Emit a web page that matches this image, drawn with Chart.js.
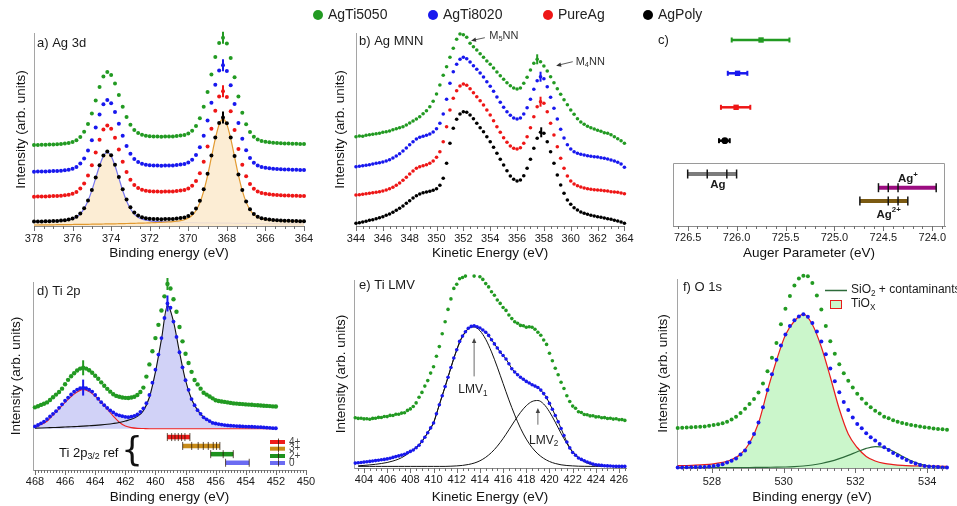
<!DOCTYPE html>
<html>
<head>
<meta charset="utf-8">
<script src="https://cdn.jsdelivr.net/npm/chart.js@4.4.1/dist/chart.umd.min.js"></script>
<style>
  html, body { margin: 0; padding: 0; background: #fff; }
  #wrap { position: relative; width: 957px; height: 506px; overflow: hidden; font-family: 'Liberation Sans', Arial, sans-serif; }
  #wrap canvas { position: absolute; }
  .leg { position: absolute; top: 5px; font-size: 14px; line-height: 18px; color: #222; white-space: nowrap; }
  .leg i { display: inline-block; width: 10px; height: 10px; border-radius: 50%; margin-right: 5px; vertical-align: -1px; }
</style>
</head>
<body>
<div id="wrap">
  <canvas id="pa"></canvas>
  <canvas id="pb"></canvas>
  <canvas id="pc"></canvas>
  <canvas id="pd"></canvas>
  <canvas id="pe"></canvas>
  <canvas id="pf"></canvas>
</div>
<script>
// ---- samples (legend order) ----
const seriesNames = ['AgTi5050', 'AgTi8020', 'PureAg', 'AgPoly'];

// a) Ag 3d, binding energy 378 -> 364 eV every 0.2 eV (offset spectra, arb. units)
const ag3dFirst = 378, ag3dStep = -0.2;
const ag3dAgTi5050 = [81.0, 81.1, 81.2, 81.3, 81.4, 81.6, 81.7, 82.0, 82.4, 83.0,
  84.0, 85.8, 89.1, 94.3, 102.1, 112.5, 125.6, 138.9, 149.4, 153.9,
  150.9, 142.4, 131.0, 119.3, 109.0, 101.2, 96.1, 92.9, 91.2, 90.2,
  89.8, 89.5, 89.4, 89.3, 89.4, 89.5, 89.6, 89.9, 90.4, 91.1,
  92.6, 95.3, 100.0, 107.7, 119.2, 134.1, 151.6, 169.0, 183.0, 188.3,
  182.5, 167.9, 148.7, 129.4, 113.3, 101.8, 94.1, 89.3, 86.6, 85.0,
  84.2, 83.7, 83.3, 83.1, 82.8, 82.6, 82.5, 82.3, 82.2, 82.1, 82.0];
const ag3dAgTi8020 = [54.3, 54.4, 54.5, 54.6, 54.7, 54.9, 55.0, 55.3, 55.7, 56.3,
  57.3, 59.1, 62.4, 67.6, 75.4, 85.8, 98.6, 111.6, 121.8, 126.1,
  122.8, 113.9, 102.3, 90.3, 80.0, 72.2, 67.1, 63.9, 62.2, 61.2,
  60.8, 60.5, 60.4, 60.3, 60.4, 60.5, 60.6, 60.9, 61.4, 62.1,
  63.6, 66.3, 71.0, 78.7, 90.2, 105.4, 123.3, 141.2, 155.4, 160.8,
  155.1, 140.7, 122.0, 103.1, 87.3, 75.8, 68.1, 63.3, 60.6, 59.0,
  58.2, 57.7, 57.3, 57.1, 56.8, 56.6, 56.5, 56.3, 56.2, 56.1, 56.0];
const ag3dPureAg = [29.3, 29.4, 29.5, 29.6, 29.7, 29.9, 30.0, 30.3, 30.7, 31.3,
  32.3, 34.1, 37.4, 42.6, 50.4, 60.8, 73.5, 86.3, 96.4, 100.6,
  97.2, 88.2, 76.4, 64.3, 54.0, 46.2, 41.1, 37.9, 36.2, 35.2,
  34.8, 34.5, 34.4, 34.3, 34.4, 34.5, 34.6, 34.9, 35.4, 36.1,
  37.6, 40.3, 45.0, 52.7, 64.2, 79.4, 97.3, 115.2, 129.4, 134.8,
  129.1, 114.7, 96.0, 77.1, 61.3, 49.8, 42.1, 37.3, 34.6, 33.0,
  32.2, 31.7, 31.3, 31.1, 30.8, 30.6, 30.5, 30.3, 30.2, 30.1, 30.0];
const ag3dAgPoly = [4.4, 4.5, 4.6, 4.7, 4.8, 5.0, 5.1, 5.4, 5.8, 6.4,
  7.4, 9.2, 12.5, 17.7, 25.5, 35.9, 48.4, 60.8, 70.5, 74.4,
  70.7, 61.3, 49.1, 36.8, 26.5, 18.7, 13.6, 10.4, 8.7, 7.7,
  7.3, 7.0, 6.9, 6.8, 6.9, 7.0, 7.1, 7.4, 7.9, 8.6,
  10.1, 12.8, 17.5, 25.2, 36.7, 52.2, 70.4, 88.6, 102.9, 108.4,
  102.8, 88.5, 70.1, 51.6, 36.0, 24.5, 16.8, 12.0, 9.3, 7.7,
  6.9, 6.4, 6.0, 5.8, 5.5, 5.3, 5.2, 5.0, 4.9, 4.8, 4.7];
const ag3dFit32 = [4.3, 4.3, 4.4, 4.5, 4.7, 4.8, 4.9, 5.2, 5.6, 6.1,
  7.2, 9.0, 12.2, 17.4, 25.2, 35.6, 48.0, 60.3, 69.9, 73.6,
  69.9, 60.2, 47.9, 35.5, 25.0, 17.2, 12.0, 8.7, 6.9, 5.8,
  5.2, 4.8, 4.5, 4.3, 4.2, 4.0, 3.9, 3.7, 3.6, 3.5,
  3.4, 3.4, 3.3, 3.2, 3.2, 3.1, 3.0, 3.0, 2.9, 2.9,
  2.8, 2.8, 2.7, 2.7, 2.6, 2.6, 2.5, 2.5, 2.5, 2.4,
  2.4, 2.3, 2.3, 2.3, 2.2, 2.2, 2.1, 2.1, 2.1, 2.0, 2.0];
const ag3dFit52 = [1.0, 1.0, 1.1, 1.1, 1.2, 1.2, 1.3, 1.3, 1.4, 1.4,
  1.5, 1.6, 1.6, 1.7, 1.7, 1.8, 1.8, 1.9, 2.0, 2.1,
  2.2, 2.2, 2.3, 2.4, 2.5, 2.6, 2.7, 2.8, 2.9, 3.0,
  3.2, 3.3, 3.5, 3.6, 3.9, 4.1, 4.4, 4.8, 5.3, 6.2,
  7.9, 10.7, 15.5, 23.2, 34.8, 50.3, 68.8, 87.1, 101.5, 107.1,
  101.6, 87.4, 69.1, 50.8, 35.3, 23.9, 16.2, 11.4, 8.8, 7.3,
  6.5, 6.0, 5.6, 5.4, 5.3, 5.1, 5.0, 4.9, 4.9, 4.8, 4.8];
const ag3dMarkX = 368.2;
const ag3dMarkY = [188.3, 160.8, 134.8, 108.4];

// b) Ag MNN, kinetic energy 344 -> 364 eV every 0.25 eV
const mnnFirst = 344, mnnStep = 0.25;
const mnnAgTi5050 = [89.3, 90, 89.7, 90.7, 91.3, 91.7, 92.3, 92.7, 93.7, 94.3,
  95, 96.3, 97.3, 98.3, 99.3, 101, 103, 105, 107, 109.3,
  112.3, 115.3, 119.3, 124.7, 132, 141, 150.7, 159.3, 168.7, 177.7,
  186.7, 192, 191.3, 188.7, 182.7, 179.3, 176, 172.3, 168.7, 165,
  161.7, 158, 154, 150.3, 146.7, 143.3, 140.3, 138, 137, 138,
  142.7, 148.7, 156, 162.7, 166.7, 164.3, 160, 155, 149.3, 143.3,
  137.3, 131.7, 126.3, 121.3, 116, 111.7, 107.3, 104, 101.7, 99.7,
  98.3, 97, 95.7, 94.7, 93.3, 92.7, 91.3, 89.3, 87.3, 85.3, 82.7];
const mnnAgTi8020 = [59.3, 59.7, 60.3, 60.7, 61.3, 62, 62.7, 63.3, 64, 65,
  66.3, 68, 70, 72.3, 75, 78, 81.3, 84.3, 87, 88.7,
  89.7, 90.7, 92, 94, 97.3, 102.7, 112, 126.7, 142.7, 154.3,
  161.7, 166.7, 168.7, 167.3, 164, 160.3, 156.7, 153, 149, 144.3,
  139.7, 134.7, 129, 123.7, 118.7, 114.3, 110.7, 108, 107, 108,
  112, 118.3, 126.7, 136.7, 145.3, 149.3, 147.3, 139.3, 128.7, 117.7,
  107, 96.7, 88, 81.3, 77, 74.3, 72.7, 71.7, 71, 70.3,
  69.7, 69.3, 69, 68.3, 67.7, 67, 66, 65, 63.7, 62, 58.7];
const mnnPureAg = [31, 31.3, 31.7, 32.3, 32.7, 33.3, 33.7, 34.3, 35, 36,
  37.3, 38.7, 40.7, 43, 45.7, 48.7, 52, 55, 57.7, 59.3,
  60.3, 61.3, 62.7, 65, 68.7, 74.3, 84.3, 99.3, 116, 127.7,
  135.3, 140, 142, 140.7, 137.3, 133.3, 129.3, 125.3, 121, 116,
  111, 105.3, 99.3, 93.7, 88.3, 83.7, 80, 77.7, 77, 78.3,
  82.7, 89.3, 98.3, 109.3, 119.3, 124.3, 122.7, 114.3, 102.7, 91,
  79.3, 67.7, 57.7, 50, 45, 42, 40.3, 39, 38, 37.3,
  36.7, 36.3, 36, 35.7, 35.3, 35, 34.3, 34, 33.7, 33, 32.3];
const mnnAgPoly = [2.7, 3.3, 4, 4.7, 5.7, 6.3, 7.3, 8.3, 9.3, 10.7,
  12, 13.7, 15.7, 17.7, 20, 22.7, 25.3, 28, 30.3, 32,
  33.3, 34, 34.7, 35.7, 37.3, 40.7, 47.7, 62.7, 82.7, 97.7,
  106.7, 112, 114.3, 113.7, 111, 107.3, 102.7, 98.3, 94.3, 89.3,
  84.3, 78.7, 72.7, 66.7, 61, 55.3, 50, 46.7, 45, 46,
  50.3, 57.7, 66.7, 77.7, 87.7, 93.7, 92.7, 84.3, 74.3, 62.7,
  51, 41, 32.7, 26, 21.7, 18.3, 16, 14, 12.7, 11.7,
  10.7, 10, 9.3, 8.7, 8, 7.3, 6.7, 5.7, 5, 4, 2.7];
const mnnMarkX = [357.5, 357.75, 357.75, 357.8];
const mnnMarkY = [166.7, 149.3, 124.3, 93.7];

// c) Auger parameter (eV) per sample and literature ranges
const apVal = [725.75, 725.99, 726.005, 726.12];
const apLo = [725.46, 725.89, 725.86, 726.07];
const apHi = [726.05, 726.09, 726.16, 726.18];
const apRow = [186, 152.7, 118.7, 85.3];
const refNames = ['Ag', 'Ag+', 'Ag2+'];
const refTicks = [[726.5, 726.3, 726.1, 726.0], [724.55, 724.45, 724.35, 723.96], [724.74, 724.45, 724.35, 724.25]];
const refRow = [52, 38.3, 25];
const refLabelX = [726.27, 724.35, 724.57];
const refLabelY = [41, 46.7, 11];

// d) Ti 2p, binding energy 468 -> 452 eV every 0.2 eV
const ti2pFirst = 468, ti2pStep = -0.2;
const ti2pAgTi5050 = [63.3, 64.5, 65.8, 67, 68.3, 70.8, 73.5, 76.2, 78.8, 82.2,
  86.7, 91.1, 94.8, 97.8, 100.5, 102.5, 103.3, 102.5, 100.8, 98.3,
  95.3, 92.2, 88.6, 85.2, 82, 79.2, 76.6, 74.9, 74, 73.3,
  72.9, 72.8, 73.3, 74.1, 75.8, 78.8, 83.3, 94.4, 106.7, 120,
  133.3, 146.7, 161.2, 175.5, 188, 183.5, 172.5, 160, 144.5, 130,
  117.5, 108.2, 99.2, 91, 86.5, 82.2, 78.1, 76.2, 74.3, 72.4,
  70.5, 69.8, 69.3, 68.8, 68.3, 67.8, 67.3, 67.1, 66.8, 66.6,
  66.3, 66.1, 65.9, 65.6, 65.4, 65.2, 65, 64.8, 64.6, 64.3, 64.1];
const ti2pAgTi8020 = [44, 45.5, 47.2, 48.9, 51.5, 54.1, 56.8, 59.5, 62.8, 66.4,
  70, 73.2, 76.3, 79.2, 81.3, 82.6, 83.3, 82.6, 81.2, 79.3,
  75.8, 72, 68.5, 65.5, 62.7, 60.2, 58.2, 56.1, 55.2, 54.4,
  53.7, 53.4, 53.9, 54.8, 56.2, 58.8, 62.3, 67.5, 75.8, 88.3,
  101.4, 116.7, 133.3, 153.6, 168.3, 164, 150, 134.5, 119, 103.8,
  90.8, 81, 71.7, 65.5, 60.5, 56.8, 53.2, 51.2, 49.4, 47.6,
  47, 46.4, 45.9, 45.4, 45, 44.8, 44.6, 44.4, 44.2, 44,
  43.9, 43.8, 43.7, 43.5, 43.4, 43.3, 43, 42.8, 42.6, 42.3, 42.2];
const ti2pFitFirst = 468, ti2pFitStep = -0.4;
const ti2pFit12 = [43.2, 45.9, 49.3, 55.5, 61.8, 68.3, 74.2, 78.8, 81.5, 79.2,
  74.6, 68.4, 61.5, 54.5, 48.3, 44.5, 42.8, 42.1, 41.9, 41.7,
  41.7, 41.7, 41.7, 41.7, 41.7, 41.7, 41.7, 41.7, 41.7, 41.7,
  41.7, 41.7, 41.7, 41.7, 41.7, 41.7, 41.7, 41.7, 41.7, 41.7, 41.7];
const ti2pFit32 = [42.3, 42.5, 42.7, 42.9, 43.1, 43.4, 43.7, 44.0, 44.3, 44.7,
  45.1, 45.6, 46.2, 47.0, 48.0, 49.5, 51.2, 54.2, 59.8, 73.5,
  99, 132, 166.5, 150, 119, 90.5, 71.5, 60.5, 53.3, 49.3,
  47, 45.9, 45, 44.6, 44.2, 43.9, 43.7, 43.4, 43, 42.6, 42.2];
const ti2pBaseline = 41.7;
const ti2pMarkX = [464.8, 459.2];
const ti2pMarkAgTi5050 = [103.3, 188];
const ti2pMarkAgTi8020 = [83.3, 168.3];
const tiRefStates = ['4+', '3+', '2+', '0'];
const tiRefTicks = [[459.21, 458.92, 458.7, 458.48, 458.26, 458.04, 457.71],
  [458.19, 457.59, 457.16, 456.82, 456.49, 456.16, 455.94, 455.72],
  [456.33, 455.5, 454.83],
  [455.34, 453.77]];
const tiRefRow = [33.3, 24.3, 16, 7.3];

// e) Ti LMV, kinetic energy 403.25 -> 426.5 eV every 0.25 eV
const lmvFirst = 403.25, lmvStep = 0.25;
const lmvAgTi5050 = [50.2, 49.6, 49.7, 49.1, 49.3, 48.8, 49.6, 49.7, 50.6, 50.5,
  51.5, 51.4, 52.6, 52.5, 53.8, 53.7, 54.9, 55.3, 57.6, 59.1,
  61.5, 65.1, 70.7, 75.6, 81.9, 87.4, 94.9, 101.3, 111.8, 121.4,
  134.3, 146.3, 158.6, 169.1, 179.6, 183.8, 189.2, 190.5, 191.9, 192.1,
  192.4, 191.9, 192.1, 191.3, 188.6, 184.4, 181.1, 176.3, 172.8, 168,
  164.6, 160.5, 157.6, 153, 149.4, 146.3, 144.8, 142.6, 142.2, 140.7,
  141.3, 140.7, 138.8, 135.7, 132.8, 128, 123.6, 114.7, 107.2, 99.7,
  93.3, 85.7, 79.5, 72.3, 66.5, 61.9, 59.7, 56.3, 55.5, 53.5,
  53.3, 52.1, 52.2, 51.1, 51.3, 50.2, 50.4, 49.5, 49.8, 48.9,
  49.3, 48.2, 48.4, 47.6];
const lmvAgTi8020 = [4.9, 5.2, 5.5, 5.9, 6.2, 6.6, 7.0, 7.4, 7.8, 8.2,
  8.6, 9.1, 9.8, 10.6, 11.4, 12.1, 12.9, 13.8, 15.2, 16.6,
  18.0, 20.3, 22.8, 26.6, 30.8, 35.3, 40.1, 45, 54.2, 63.3,
  72.3, 81.4, 90.8, 100.5, 110, 118.3, 126.6, 131.9, 136.3, 139.7,
  141.6, 142.2, 141.3, 140, 138, 135.8, 132.6, 128.3, 124.1, 120,
  115.9, 112.5, 109, 104.3, 99.3, 96, 93.3, 90.8, 88.7, 86.6,
  85, 83.3, 81.9, 80.5, 77.9, 74.4, 70.4, 64.6, 58.8, 52.5,
  46.2, 39.5, 32.5, 26, 20.1, 15.5, 12.8, 10, 8.6, 7.2,
  6, 5, 3.9, 3.2, 2.9, 2.6, 2.3, 2.1, 2.0, 1.8,
  1.6, 1.6, 1.6, 1.6];
const lmvFitFirst = 403.5, lmvFitStep = 0.5;
const lmvFit1 = [2.2, 2.6, 3.1, 3.7, 4.5, 5.5, 7.0, 9.0, 12.0, 16.0,
  20.5, 26.5, 35.3, 45, 63.3, 81.4, 100.3, 117.8, 131.3, 139.2,
  141, 137.3, 128.7, 116.1, 100.9, 84.5, 68.1, 53.1, 39.8, 28.9,
  20.4, 14.1, 9.6, 6.5, 4.5, 3.2, 2.5, 2.1, 1.8, 1.7,
  1.65, 1.6, 1.6, 1.6, 1.6, 1.6, 1.6];
const lmvFit2 = [1.6, 1.6, 1.6, 1.6, 1.6, 1.6, 1.6, 1.6, 1.6, 1.6,
  1.6, 1.6, 1.6, 1.6, 1.6, 1.6, 1.8, 2.1, 2.6, 3.5,
  4.9, 7.2, 10.7, 15.5, 21.8, 29.5, 38.2, 47.2, 55.6, 62.3,
  66.5, 67.5, 64, 56.2, 45.8, 34.6, 24.4, 16.2, 10.2, 6.3,
  4, 2.7, 2.1, 1.8, 1.7, 1.6, 1.6];
const lmvArrowX = [413.5, 419.0];
const lmvArrowFrom = [91.6, 43.3];
const lmvArrowTo = [130, 60];
const lmvLabelX = [413.4, 419.5];
const lmvLabelY = [78, 27.6];

// f) O 1s, binding energy 527.05 -> 534.55 eV every 0.125 eV
const o1sFirst = 527.05, o1sStep = 0.125;
const o1sAgTi5050 = [39.9, 40.2, 40.4, 40.7, 41, 41.3, 41.6, 42.3, 43, 43.7,
  44.7, 46.3, 48.5, 51.2, 55, 59.3, 64.1, 69, 75.4, 84.4,
  96.7, 110.2, 125, 143.8, 159.2, 172.1, 182.4, 189.6, 192.3, 191.8,
  185, 172.5, 158.4, 142.1, 126.7, 114.2, 103.8, 94.8, 87.3, 80.4,
  74.2, 69.3, 64.6, 60.8, 57.3, 54.5, 51.3, 49.8, 47.8, 46.3,
  45.1, 44, 43, 42.2, 41.4, 40.8, 40.2, 39.6, 39.1, 38.7, 38.3];
const o1sAgTi8020 = [0.5, 0.6, 0.7, 0.8, 0.9, 0.9, 1.0, 1.5, 2.0, 2.7,
  3.8, 5.5, 7.2, 9.4, 13.5, 17.6, 25.5, 34, 45.5, 60.8,
  78.1, 93.8, 108.3, 122.5, 133.5, 141.9, 147.7, 151.6, 153.8, 151.3,
  145, 136.5, 126.4, 113.7, 99.4, 86.8, 75.8, 66.1, 58.1, 50.6,
  44.1, 39.7, 34.8, 30.8, 27.4, 24, 20.7, 17.9, 15.1, 12.5,
  10.2, 7.9, 6, 4.6, 3.1, 2.1, 1.6, 1.2, 0.9, 0.6, 0.4];
const o1sFitFirst = 527.05, o1sFitStep = 0.25;
const o1sTiOx = [2.3, 2.5, 2.8, 3.3, 4.2, 5.6, 8.3, 13.8, 25, 45,
  77.5, 107.5, 133, 147, 153.8, 143.5, 121, 91, 59, 34,
  20.5, 11.6, 7, 4.6, 3.4, 2.6, 2.2, 2.0, 1.9, 1.8, 1.7];
const o1sSiO2 = [0.4, 0.4, 0.4, 0.4, 0.4, 0.4, 0.5, 0.5, 0.5, 0.6,
  0.7, 0.8, 1.0, 1.4, 2.0, 3.0, 4.5, 6.6, 9.4, 12.6,
  16.2, 19.6, 21.4, 20.5, 16.8, 11.8, 7.2, 3.9, 2.0, 1.1, 0.6];

// ---- styles ----
const FONT = "'Liberation Sans', Arial, Helvetica, sans-serif";
Chart.defaults.font.family = FONT;
Chart.defaults.color = '#222';
const seriesColors = ['#229a22', '#1818ee', '#ee1616', '#000000'];
const refColors = ['#7c7c7c', '#9b0c80', '#7b5a12'];
const tiRefColors = ['#ee1c1c', '#c88c1a', '#1e921e', '#6b6bf2'];

// html legend on top
const wrap = document.getElementById('wrap');
const legendLeft = [313, 428, 543, 643];
seriesNames.forEach((n, i) => {
  const d = document.createElement('div');
  d.className = 'leg';
  d.style.left = legendLeft[i] + 'px';
  d.innerHTML = '<i style="background:' + seriesColors[i] + '"></i>' + n;
  wrap.appendChild(d);
});

// minor / major tick marks under every x axis
const axisTicks = {
  id: 'axisTicks',
  afterDraw(chart, args, o) {
    if (!o || !o.minor) return;
    const sc = chart.scales.x, ctx = chart.ctx, y0 = chart.chartArea.bottom;
    const lo = Math.min(sc.min, sc.max), hi = Math.max(sc.min, sc.max);
    const k0 = Math.ceil(lo / o.minor - 1e-6), k1 = Math.floor(hi / o.minor + 1e-6);
    ctx.save();
    ctx.strokeStyle = '#6e6e6e';
    ctx.lineWidth = 1;
    ctx.beginPath();
    for (let k = k0; k <= k1; k++) {
      const v = k * o.minor, r = v / o.major;
      const major = Math.abs(r - Math.round(r)) < 1e-6;
      const px = Math.round(sc.getPixelForValue(v)) + 0.5;
      ctx.moveTo(px, y0);
      ctx.lineTo(px, y0 + (major ? 5 : 3));
    }
    ctx.stroke();
    ctx.restore();
  }
};
Chart.register(axisTicks);

function richText(ctx, parts, x, y, size, align, weight) {
  const w = weight ? weight + ' ' : '';
  const fontOf = k => w + (k ? size * 0.68 : size) + 'px ' + FONT;
  const widths = parts.map(([t, k]) => { ctx.font = fontOf(k); return ctx.measureText(t).width; });
  const total = widths.reduce((s, v) => s + v, 0);
  let cx = align === 'center' ? x - total / 2 : x;
  ctx.textAlign = 'left';
  ctx.textBaseline = 'middle';
  parts.forEach(([t, k], i) => {
    ctx.font = fontOf(k);
    const dy = k === 'sub' ? size * 0.3 : (k === 'sup' ? -size * 0.42 : 0);
    ctx.fillText(t, cx, y + dy);
    cx += widths[i];
  });
}

function arrow(ctx, x1, y1, x2, y2, color) {
  const a = Math.atan2(y2 - y1, x2 - x1), L = 5, W = 2.2;
  ctx.strokeStyle = color;
  ctx.fillStyle = color;
  ctx.lineWidth = 0.8;
  ctx.beginPath();
  ctx.moveTo(x1, y1);
  ctx.lineTo(x2 - Math.cos(a) * L * 0.8, y2 - Math.sin(a) * L * 0.8);
  ctx.stroke();
  ctx.beginPath();
  ctx.moveTo(x2, y2);
  ctx.lineTo(x2 - L * Math.cos(a) + W * Math.sin(a), y2 - L * Math.sin(a) - W * Math.cos(a));
  ctx.lineTo(x2 - L * Math.cos(a) - W * Math.sin(a), y2 - L * Math.sin(a) + W * Math.cos(a));
  ctx.closePath();
  ctx.fill();
}

// dataset helpers
const grid = (first, step, ys) => ys.map((y, i) => ({ x: +(first + step * i).toFixed(3), y }));
const dots = (data, color, r, order) => ({ data, showLine: false, pointRadius: r, pointBackgroundColor: color, pointBorderColor: color, pointBorderWidth: 0, order, clip: false });
const curve = (data, color, width, order, extra) => Object.assign({ data, showLine: true, borderColor: color, borderWidth: width, pointRadius: 0, cubicInterpolationMode: 'monotone', fill: false, order }, extra || {});
const marker = (x, y, color, r) => ({ data: [{ x, y }], showLine: false, pointStyle: 'line', rotation: 90, pointRadius: r, pointBorderColor: color, pointBorderWidth: 2, order: 0, clip: false });

function panel(id, box, area, p) {
  const cv = document.getElementById(id);
  cv.width = box.w;
  cv.height = box.h;
  Object.assign(cv.style, { left: box.x + 'px', top: box.y + 'px', width: box.w + 'px', height: box.h + 'px' });
  const lh = 13.5 * 1.2;
  const x = {
    type: 'linear', min: p.xmin, max: p.xmax, reverse: !!p.reverse,
    border: { display: true, color: '#8a8a8a' },
    grid: { display: false, drawTicks: false },
    ticks: { stepSize: p.major, includeBounds: false, autoSkip: false, maxRotation: 0,
      padding: p.tickY - area.b - 6.6, font: { size: 11 }, color: '#1a1a1a', callback: p.fmt || (v => String(v)) },
    title: { display: true, text: p.xTitle, font: { size: 13.5 }, color: '#111',
      padding: { top: 0, bottom: box.y + box.h - p.xTitleY - lh / 2 } },
    afterFit: s => { s.height = box.y + box.h - area.b; }
  };
  const y = p.yTitleX ? {
    type: 'linear', min: 0, max: area.b - area.t,
    border: { display: true, color: '#a5a5a5' },
    grid: { display: false, drawTicks: false },
    ticks: { display: false },
    title: { display: true, text: 'Intensity (arb. units)', font: { size: 13.5 }, color: '#111',
      padding: { top: p.yTitleX - box.x - lh / 2, bottom: 0 } },
    afterFit: s => { s.width = area.l - box.x; }
  } : { display: false, min: 0, max: area.b - area.t };
  return new Chart(cv, {
    type: 'line',
    data: { datasets: p.datasets },
    options: {
      responsive: false, animation: false, events: [], devicePixelRatio: 1,
      layout: { padding: { left: p.yTitleX ? 0 : area.l - box.x, top: area.t - box.y, right: box.x + box.w - area.r, bottom: 0 } },
      plugins: { legend: { display: false }, tooltip: { enabled: false }, axisTicks: { minor: p.minor, major: p.major } },
      scales: { x, y }
    },
    plugins: [{
      id: 'decor',
      afterDatasetsDraw(chart) {
        const ctx = chart.ctx, a = chart.chartArea;
        ctx.save();
        ctx.fillStyle = '#1a1a1a';
        ctx.font = '13px ' + FONT;
        ctx.textAlign = 'left';
        ctx.textBaseline = 'middle';
        ctx.fillText(p.label, a.left + p.labelAt[0], a.top + p.labelAt[1]);
        if (p.decor) p.decor(chart, ctx, a);
        ctx.restore();
      }
    }]
  });
}

// ---- a) Ag 3d ----
const ag3dSeries = [ag3dAgTi5050, ag3dAgTi8020, ag3dPureAg, ag3dAgPoly];
const peach = 'rgba(252,235,207,0.9)';
panel('pa', { x: 0, y: 20, w: 322, h: 252 }, { l: 34, t: 33, r: 304, b: 226 }, {
  xmin: 364, xmax: 378, reverse: true, major: 2, minor: 0.5, tickY: 239,
  xTitle: 'Binding energy (eV)', xTitleY: 253, yTitleX: 21,
  label: 'a) Ag 3d', labelAt: [3, 10],
  datasets: [
    curve(grid(ag3dFirst, ag3dStep, ag3dFit32), '#7676ee', 1.2, 11, { fill: 'origin', backgroundColor: peach }),
    curve(grid(ag3dFirst, ag3dStep, ag3dFit52), '#e29a30', 1.2, 10, { fill: 'origin', backgroundColor: peach }),
    ...ag3dSeries.map((s, i) => dots(grid(ag3dFirst, ag3dStep, s), seriesColors[i], 2, 4 - i)),
    ...ag3dMarkY.map((y, i) => marker(ag3dMarkX, y, seriesColors[i], 6))
  ]
});

// ---- b) Ag MNN ----
const mnnSeries = [mnnAgTi5050, mnnAgTi8020, mnnPureAg, mnnAgPoly];
panel('pb', { x: 322, y: 20, w: 318, h: 252 }, { l: 356, t: 33, r: 626, b: 226 }, {
  xmin: 344, xmax: 364, major: 2, minor: 0.5, tickY: 239,
  xTitle: 'Kinetic Energy (eV)', xTitleY: 253, yTitleX: 340,
  label: 'b) Ag MNN', labelAt: [3, 8],
  datasets: [
    ...mnnSeries.map((s, i) => dots(grid(mnnFirst, mnnStep, s), seriesColors[i], 1.8, 4 - i)),
    ...mnnMarkY.map((y, i) => marker(mnnMarkX[i], y, seriesColors[i], 5))
  ],
  decor(chart, ctx) {
    const sx = chart.scales.x, sy = chart.scales.y;
    const X = v => sx.getPixelForValue(v), Y = v => sy.getPixelForValue(v);
    ctx.fillStyle = '#333';
    richText(ctx, [['M'], ['5', 'sub'], ['NN']], X(353.93), Y(190), 11);
    arrow(ctx, X(353.6), Y(188.3), X(352.57), Y(185.3), '#333');
    ctx.fillStyle = '#333';
    richText(ctx, [['M'], ['4', 'sub'], ['NN']], X(360.37), Y(164.3), 11);
    arrow(ctx, X(360.15), Y(164.3), X(358.91), Y(160.3), '#333');
  }
});

// ---- c) Auger parameter ----
const apSets = [];
seriesNames.forEach((n, i) => {
  apSets.push({ data: [{ x: apLo[i], y: apRow[i] }, { x: apHi[i], y: apRow[i] }], showLine: true,
    borderColor: seriesColors[i], borderWidth: 2.5, pointStyle: 'line', rotation: 90, pointRadius: 2.5,
    pointBorderColor: seriesColors[i], pointBorderWidth: 2, order: 2 });
  apSets.push({ data: [{ x: apVal[i], y: apRow[i] }], showLine: false, pointStyle: i === 3 ? 'circle' : 'rect',
    pointRadius: i === 3 ? 3.4 : 3.8, pointBackgroundColor: seriesColors[i], pointBorderWidth: 0, order: 1 });
});
refNames.forEach((n, i) => {
  apSets.push({ data: refTicks[i].map(x => ({ x, y: refRow[i] })), showLine: true, borderColor: refColors[i],
    borderWidth: 4, pointStyle: 'line', rotation: 90, pointRadius: 4.5, pointBorderColor: '#151515',
    pointBorderWidth: 1.5, order: 3 });
});
panel('pc', { x: 640, y: 20, w: 317, h: 252 }, { l: 673, t: 33, r: 945, b: 226 }, {
  xmin: 723.87, xmax: 726.65, reverse: true, major: 0.5, minor: 0.1, tickY: 238,
  fmt: v => v.toFixed(1),
  xTitle: 'Auger Parameter (eV)', xTitleY: 253,
  label: 'c)', labelAt: [-15, 7],
  datasets: apSets,
  decor(chart, ctx, a) {
    const sx = chart.scales.x, sy = chart.scales.y;
    const X = v => sx.getPixelForValue(v), Y = v => sy.getPixelForValue(v);
    const top = Math.round(Y(63.3)) + 0.5;
    ctx.strokeStyle = '#9a9a9a';
    ctx.lineWidth = 1;
    ctx.beginPath();
    ctx.moveTo(a.left + 0.5, a.bottom);
    ctx.lineTo(a.left + 0.5, top);
    ctx.lineTo(a.right - 0.5, top);
    ctx.lineTo(a.right - 0.5, a.bottom);
    ctx.stroke();
    ctx.fillStyle = '#1a1a1a';
    richText(ctx, [['Ag']], X(refLabelX[0]), Y(refLabelY[0]), 11.5, 'left', 'bold');
    richText(ctx, [['Ag'], ['+', 'sup']], X(refLabelX[1]), Y(refLabelY[1]), 11.5, 'left', 'bold');
    richText(ctx, [['Ag'], ['2+', 'sup']], X(refLabelX[2]), Y(refLabelY[2]), 11.5, 'left', 'bold');
  }
});

// ---- d) Ti 2p ----
const lavender = 'rgba(204,205,246,0.9)';
const tiRefSets = tiRefTicks.map((t, i) => ({
  data: t.map(x => ({ x, y: tiRefRow[i] })), showLine: true, borderColor: tiRefColors[i], borderWidth: 4.5,
  pointStyle: 'line', rotation: 90, pointRadius: 4, pointBorderColor: 'rgba(40,20,0,0.75)', pointBorderWidth: 1, order: 3
}));
panel('pd', { x: 0, y: 272, w: 322, h: 234 }, { l: 33, t: 280, r: 306, b: 470 }, {
  xmin: 450, xmax: 468.13, reverse: true, major: 2, minor: 0.2, tickY: 481.7,
  xTitle: 'Binding energy (eV)', xTitleY: 497.5, yTitleX: 16,
  label: 'd) Ti 2p', labelAt: [4, 9],
  datasets: [
    { data: grid(ti2pFirst, ti2pStep, ti2pAgTi8020), showLine: false, pointRadius: 0, borderWidth: 0,
      fill: { value: ti2pBaseline }, backgroundColor: lavender, order: 12 },
    curve(grid(ti2pFitFirst, ti2pFitStep, ti2pFit12), '#ee2222', 1.1, 6),
    curve(grid(ti2pFitFirst, ti2pFitStep, ti2pFit32), '#111111', 1.1, 5),
    dots(grid(ti2pFirst, ti2pStep, ti2pAgTi8020), seriesColors[1], 1.9, 3),
    dots(grid(ti2pFirst, ti2pStep, ti2pAgTi5050), seriesColors[0], 2.2, 2),
    ...tiRefSets,
    ...ti2pMarkX.map((x, i) => marker(x, ti2pMarkAgTi5050[i], seriesColors[0], i ? 6 : 7.5)),
    ...ti2pMarkX.map((x, i) => marker(x, ti2pMarkAgTi8020[i], seriesColors[1], 8))
  ],
  decor(chart, ctx, a) {
    ctx.fillStyle = '#111';
    richText(ctx, [['Ti 2p'], ['3/2', 'sub'], [' ref']], a.left + 26, a.top + 171, 13);
    ctx.font = "34px 'DejaVu Sans'";
    ctx.textAlign = 'center';
    ctx.textBaseline = 'middle';
    ctx.fillText('{', a.left + 99, a.top + 170);
    tiRefStates.forEach((s, i) => {
      const yy = a.top + [160, 166.7, 174, 181][i];
      ctx.strokeStyle = tiRefColors[i];
      ctx.lineWidth = 4;
      ctx.beginPath();
      ctx.moveTo(a.left + 237, yy);
      ctx.lineTo(a.left + 252, yy);
      ctx.stroke();
      ctx.strokeStyle = 'rgba(40,20,0,0.75)';
      ctx.lineWidth = 1;
      ctx.beginPath();
      ctx.moveTo(a.left + 245.5, yy - 3.5);
      ctx.lineTo(a.left + 245.5, yy + 3.5);
      ctx.stroke();
      ctx.fillStyle = '#444';
      ctx.font = '10px ' + FONT;
      ctx.textAlign = 'left';
      ctx.fillText(s, a.left + 256, yy);
    });
  }
});

// ---- e) Ti LMV ----
panel('pe', { x: 322, y: 272, w: 318, h: 234 }, { l: 354, t: 280, r: 626, b: 468 }, {
  xmin: 403.14, xmax: 426.6, major: 2, minor: 0.5, tickY: 480.3,
  xTitle: 'Kinetic Energy (eV)', xTitleY: 497.5, yTitleX: 341,
  label: 'e) Ti LMV', labelAt: [5, 5],
  datasets: [
    curve(grid(lmvFitFirst, lmvFitStep, lmvFit1), '#111111', 1, 6),
    curve(grid(lmvFitFirst, lmvFitStep, lmvFit2), '#111111', 1, 6),
    Object.assign(dots(grid(lmvFirst, lmvStep, lmvAgTi8020), seriesColors[1], 1.8, 3),
      { showLine: true, borderColor: '#111111', borderWidth: 1 }),
    dots(grid(lmvFirst, lmvStep, lmvAgTi5050), seriesColors[0], 1.8, 2)
  ],
  decor(chart, ctx) {
    const sx = chart.scales.x, sy = chart.scales.y;
    const X = v => sx.getPixelForValue(v), Y = v => sy.getPixelForValue(v);
    lmvArrowX.forEach((x, i) => {
      arrow(ctx, X(x), Y(lmvArrowFrom[i]), X(x), Y(lmvArrowTo[i]), '#444');
      ctx.fillStyle = '#222';
      richText(ctx, [['LMV'], [String(i + 1), 'sub']], X(lmvLabelX[i]), Y(lmvLabelY[i]), 12, 'center');
    });
  }
});

// ---- f) O 1s ----
const mint = 'rgba(200,246,200,0.95)';
panel('pf', { x: 640, y: 272, w: 317, h: 234 }, { l: 677, t: 279, r: 947, b: 468 }, {
  xmin: 527.03, xmax: 534.55, major: 2, minor: 0.2, tickY: 482.3,
  xTitle: 'Binding energy (eV)', xTitleY: 497.5, yTitleX: 663,
  label: 'f) O 1s', labelAt: [6, 8],
  datasets: [
    curve(grid(o1sFitFirst, o1sFitStep, o1sTiOx), '#e81c1c', 1.2, 8, { fill: 'origin', backgroundColor: mint }),
    curve(grid(o1sFitFirst, o1sFitStep, o1sSiO2), '#2d6b3a', 1.2, 7),
    dots(grid(o1sFirst, o1sStep, o1sAgTi8020), seriesColors[1], 2, 3),
    dots(grid(o1sFirst, o1sStep, o1sAgTi5050), seriesColors[0], 2, 2)
  ],
  decor(chart, ctx, a) {
    ctx.strokeStyle = '#2d6b3a';
    ctx.lineWidth = 1.5;
    ctx.beginPath();
    ctx.moveTo(a.left + 148, a.top + 11.5);
    ctx.lineTo(a.left + 170, a.top + 11.5);
    ctx.stroke();
    ctx.fillStyle = '#1a1a1a';
    richText(ctx, [['SiO'], ['2', 'sub'], [' + contaminants']], a.left + 174, a.top + 11, 12);
    ctx.fillStyle = mint;
    ctx.fillRect(a.left + 153.5, a.top + 21.5, 11, 8);
    ctx.strokeStyle = '#e81c1c';
    ctx.lineWidth = 1;
    ctx.strokeRect(a.left + 153.5, a.top + 21.5, 11, 8);
    ctx.fillStyle = '#1a1a1a';
    richText(ctx, [['TiO'], ['X', 'sub']], a.left + 174, a.top + 25, 12);
  }
});
</script>
</body>
</html>
